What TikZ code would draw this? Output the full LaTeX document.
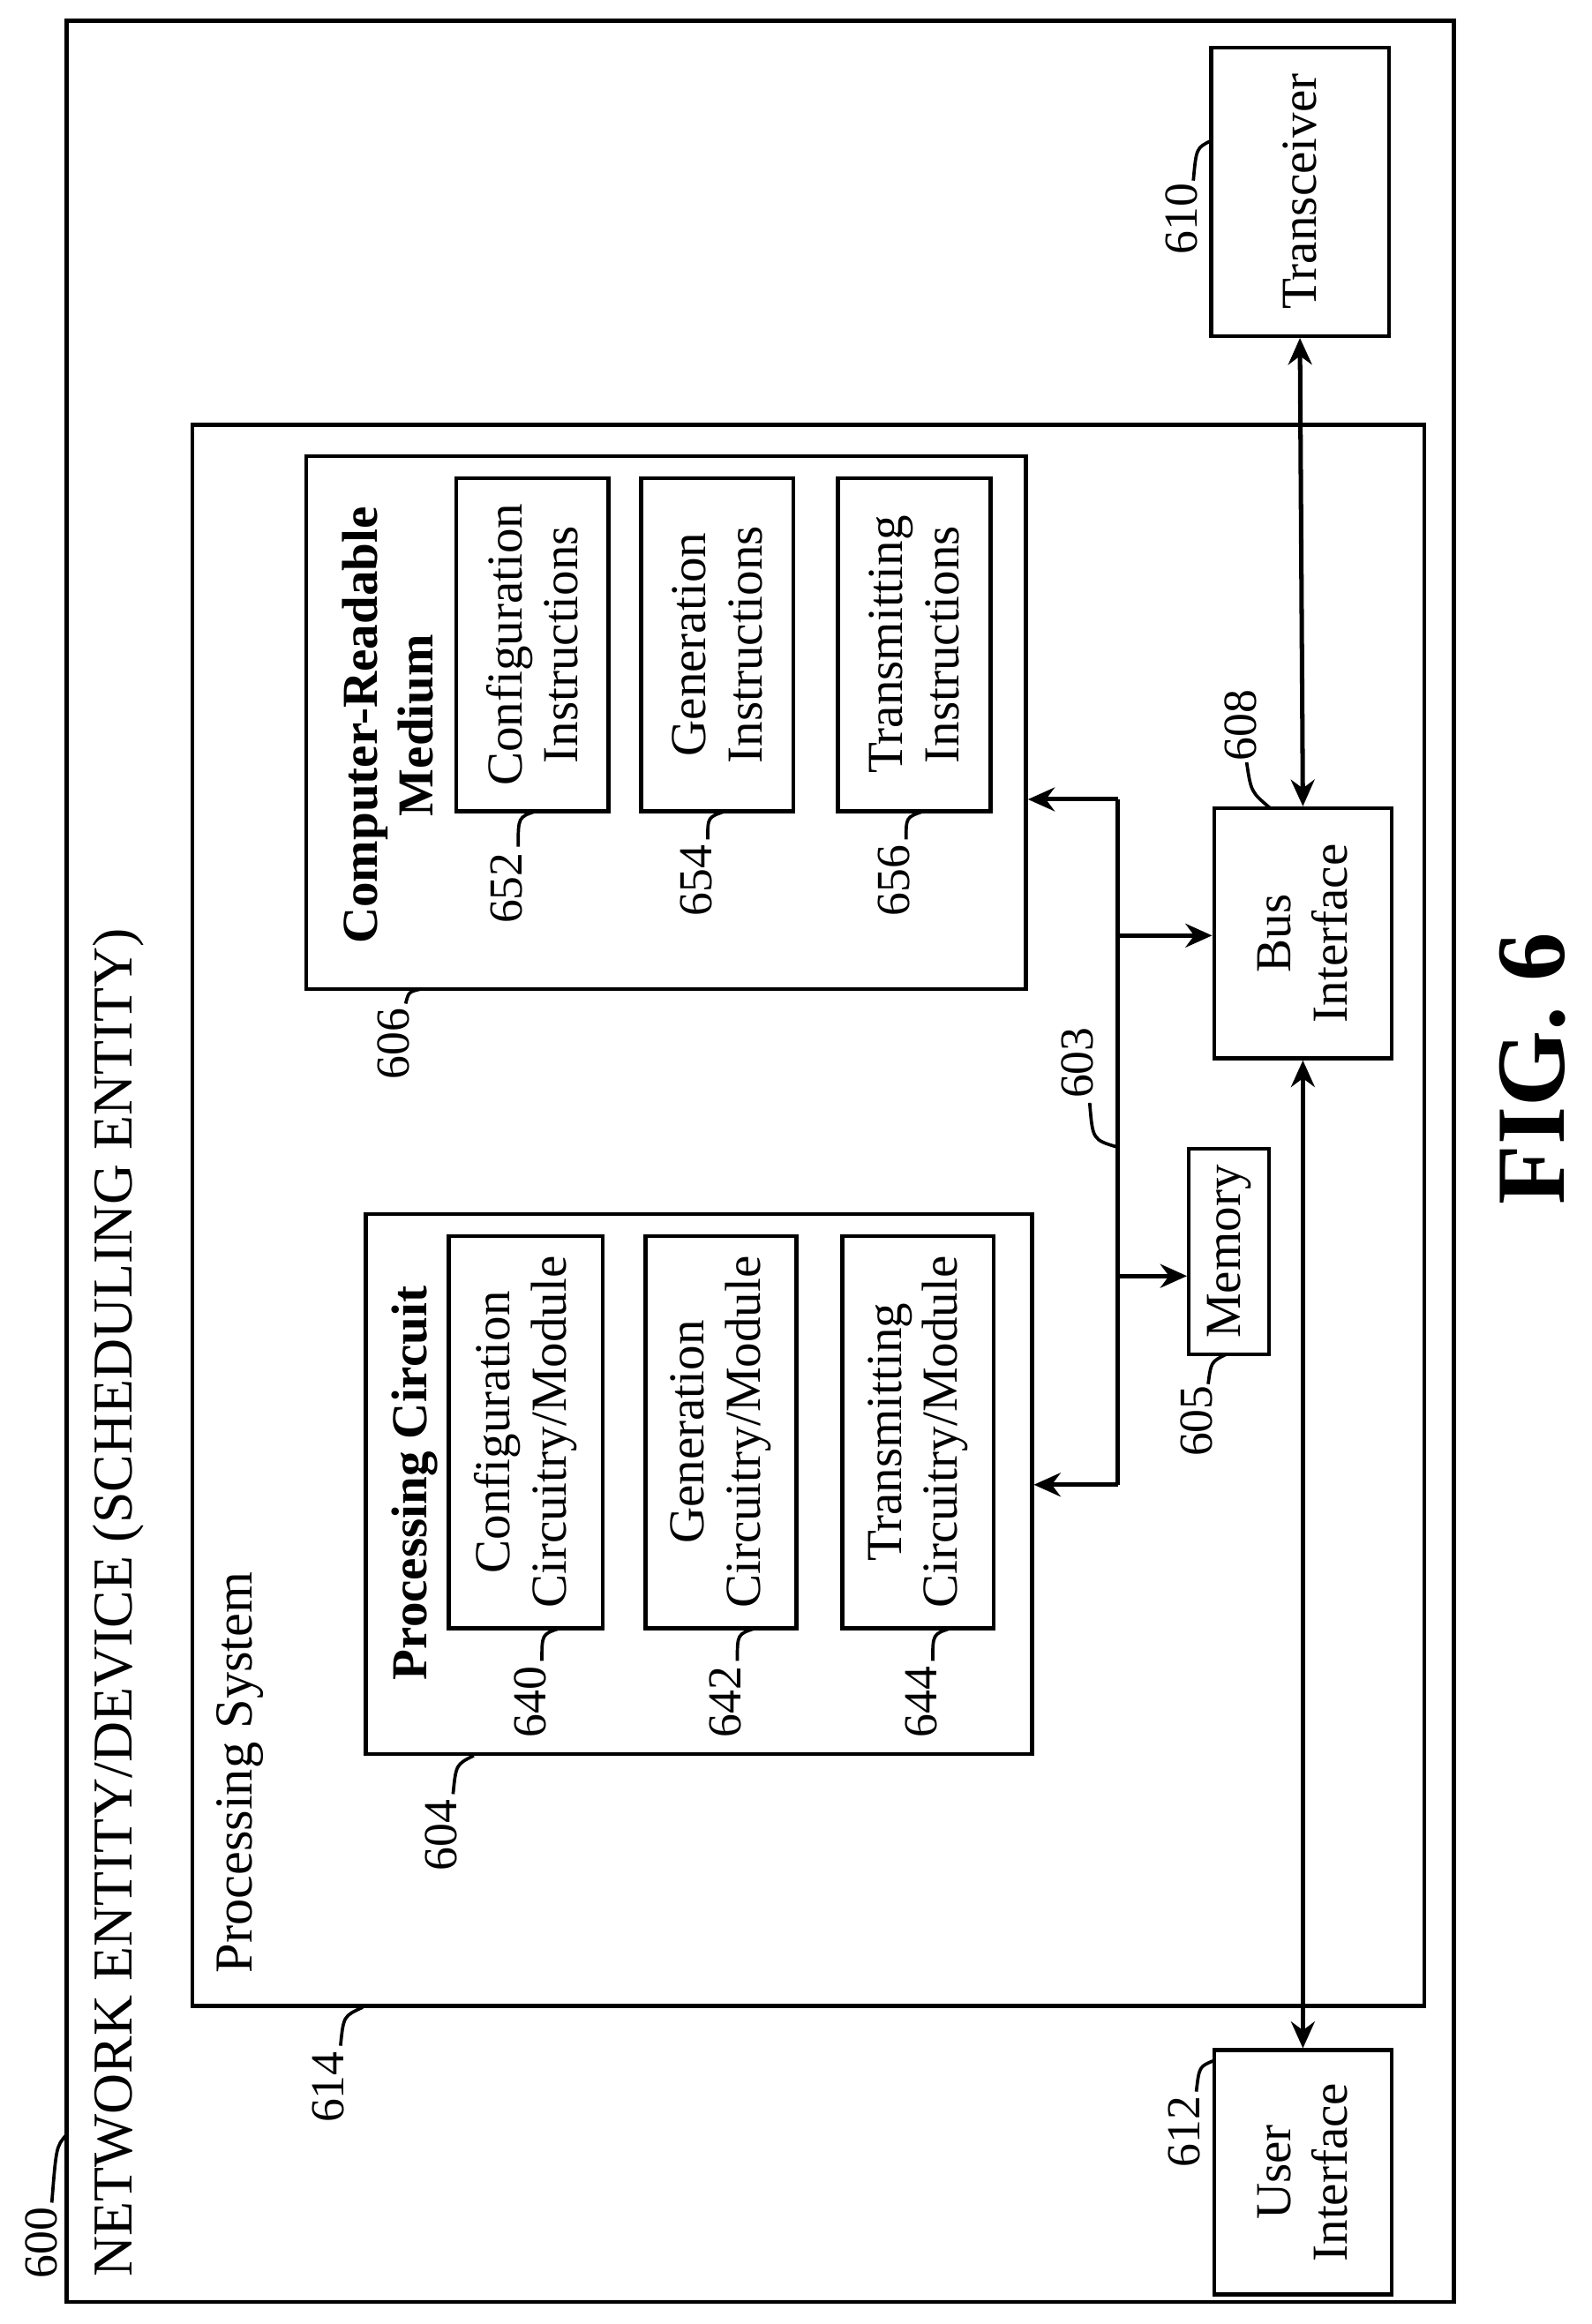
\documentclass[tikz,border=0pt]{standalone}
\usepackage{fontspec}
\setmainfont{Liberation Serif}
\usetikzlibrary{fit,arrows.meta}
\begin{document}
\begin{tikzpicture}[x=0.5pt,y=-0.5pt,
 box/.style={draw,line width=1.3pt,inner sep=0pt},
 txt/.style={rotate=90,align=center,font=\fontsize{17}{19}\selectfont},
 ttl/.style={rotate=90,font=\fontsize{17}{19}\selectfont\bfseries,align=center},
 lbl/.style={rotate=90,font=\fontsize{16}{18}\selectfont},
 lead/.style={line width=1.1pt},
 con/.style={line width=1.5pt},
 arr/.style={con,-{Stealth[length=9pt,width=8pt]}},
 darr/.style={con,{Stealth[length=9pt,width=8pt]}-{Stealth[length=9pt,width=8pt]}}]
\useasboundingbox (0,0) rectangle (1075,1570);
\fill[white] (0,0) rectangle (1075,1570);
% outer
\node[box,fit={(45,14)(982,1555)}] (dev) {};
\node[rotate=90,anchor=west,font=\fontsize{19}{21}\selectfont] (devt) at (80,1545) {NETWORK ENTITY/DEVICE (SCHEDULING ENTITY)};
\node[lbl] (l600) at (28,1515) {600};
\draw[lead] (35,1488) .. controls (38,1450) .. (45,1442);
% transceiver
\node[box,fit={(818,32)(938,227)}] (tr) {};
\node[txt] at (tr) {Transceiver};
\node[lbl] (l610) at (798,148) {610};
\draw[lead] (806,122) .. controls (808,100) .. (818,95);
% processing system
\node[box,fit={(130,287)(962,1355)}] (ps) {};
\node[rotate=90,anchor=west,font=\fontsize{18}{20}\selectfont] at (162,1340) {Processing System};
\node[lbl] (l614) at (222,1410) {614};
\draw[lead] (230,1382) .. controls (232,1362) .. (245,1356);
% processing circuit
\node[box,fit={(247,820)(697,1185)}] (pc) {};
\node[ttl,anchor=west] at (280,1142) {Processing Circuit};
\node[lbl] (l604) at (298,1240) {604};
\draw[lead] (306,1212) .. controls (308,1192) .. (320,1186);
\node[box,fit={(303,835)(407,1100)}] (c640) {};
\node[txt] at (c640) {Configuration\\Circuitry/Module};
\node[box,fit={(436,835)(538,1100)}] (c642) {};
\node[txt] at (c642) {Generation\\Circuitry/Module};
\node[box,fit={(569,835)(671,1100)}] (c644) {};
\node[txt] at (c644) {Transmitting\\Circuitry/Module};
\node[lbl] (l640) at (358,1150) {640};
\node[lbl] (l642) at (490,1150) {642};
\node[lbl] (l644) at (622,1150) {644};
\draw[lead] (366,1122) .. controls (366,1104) .. (378,1100);
\draw[lead] (498,1122) .. controls (498,1104) .. (510,1100);
\draw[lead] (630,1122) .. controls (630,1104) .. (642,1100);
% CRM
\node[box,fit={(207,308)(693,668)}] (crm) {};
\node[ttl] at (262,490) {Computer-Readable\\Medium};
\node[lbl] (l606) at (266,705) {606};
\draw[lead] (274,678) .. controls (276,670) .. (285,668);
\node[box,fit={(308,323)(411,548)}] (i652) {};
\node[txt] at (i652) {Configuration\\Instructions};
\node[box,fit={(433,323)(536,548)}] (i654) {};
\node[txt] at (i654) {Generation\\Instructions};
\node[box,fit={(566,323)(669,548)}] (i656) {};
\node[txt] at (i656) {Transmitting\\Instructions};
\node[lbl] (l652) at (342,600) {652};
\node[lbl] (l654) at (470,595) {654};
\node[lbl] (l656) at (604,595) {656};
\draw[lead] (350,572) .. controls (350,552) .. (362,548);
\draw[lead] (478,567) .. controls (478,552) .. (490,548);
\draw[lead] (612,567) .. controls (612,552) .. (624,548);
% memory
\node[box,fit={(803,776)(857,915)}] (mem) {};
\node[txt] at (mem) {Memory};
\node[lbl] (l605) at (808,960) {605};
\draw[lead] (816,935) .. controls (818,920) .. (828,915);
% bus interface
\node[box,fit={(820,546)(940,715)}] (bus) {};
\node[txt] at (bus) {Bus\\Interface};
\node[lbl] (l608) at (838,490) {608};
\draw[lead] (842,515) .. controls (845,535) .. (858,546);
% user interface
\node[box,fit={(820,1385)(940,1550)}] (ui) {};
\node[txt] at (ui) {User\\Interface};
\node[lbl] (l612) at (800,1440) {612};
\draw[lead] (808,1413) .. controls (810,1396) .. (820,1392);
% bus 603
\coordinate (b1) at (755,540);
\coordinate (b2) at (755,1003);
\coordinate (b3) at (755,632);
\coordinate (b4) at (755,862);
\draw[con] (b1) -- (b2);
\draw[arr] (b1) -- (crm.east |- b1);
\draw[arr] (b2) -- (pc.east |- b2);
\draw[arr] (b3) -- (bus.west |- b3);
\draw[arr] (b4) -- (mem.west |- b4);
\node[lbl] (l603) at (728,718) {603};
\draw[lead] (736,745) .. controls (738,770) .. (755,775);
\draw[darr] (bus.north) -- (tr.south);
\draw[darr] (bus.south) -- (ui.north);
% fig
\node[rotate=90,font=\fontsize{33}{36}\selectfont\bfseries] at (1035,722) {FIG. 6};
\end{tikzpicture}
\end{document}
